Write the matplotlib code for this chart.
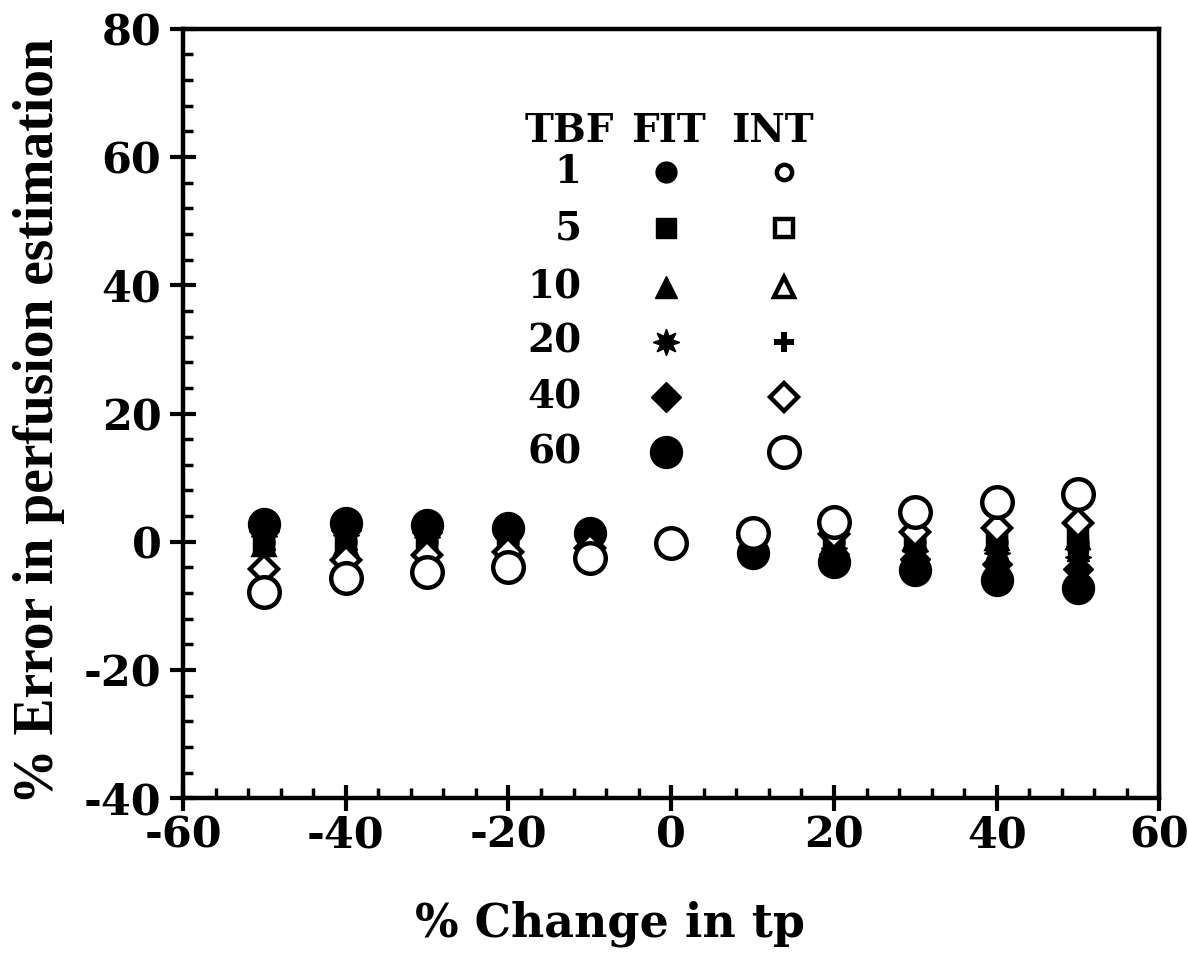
import numpy as np
import matplotlib
matplotlib.use('Agg')
import matplotlib.pyplot as plt
from matplotlib.ticker import MultipleLocator

plt.rcParams['font.family'] = 'DejaVu Serif'
plt.rcParams['font.weight'] = 'bold'
plt.rcParams['axes.unicode_minus'] = False

# % change in tp
change_tp = [-50, -40, -30, -20, -10, 0, 10, 20, 30, 40, 50]
tbf = [1, 5, 10, 20, 40, 60]

# % error, curve-fit method
fit_1 = [0.0, 0.0, 0.0, 0.0, 0.0, -0.2, 0.0, 0.0, -0.1, -0.1, -0.2]
fit_5 = [0.2, 0.2, 0.2, 0.15, 0.1, -0.2, -0.1, -0.2, -0.3, -0.4, -0.5]
fit_10 = [0.4, 0.45, 0.4, 0.3, 0.2, -0.2, -0.3, -0.5, -0.7, -0.9, -1.2]
fit_20 = [0.9, 1.0, 0.8, 0.7, 0.4, -0.2, -0.6, -1.0, -1.4, -1.8, -2.3]
fit_40 = [1.7, 1.9, 1.6, 1.3, 0.8, -0.2, -1.0, -1.9, -2.7, -3.4, -4.2]
fit_60 = [2.8, 3.0, 2.6, 2.2, 1.4, -0.2, -1.7, -3.1, -4.4, -5.9, -7.2]

# % error, integral method
int_1 = [0.0, 0.0, 0.0, 0.0, 0.0, -0.2, 0.0, 0.0, 0.0, 0.0, 0.1]
int_5 = [-0.2, -0.2, -0.1, -0.1, -0.1, -0.2, 0.1, 0.1, 0.2, 0.2, 0.3]
int_10 = [-0.5, -0.4, -0.4, -0.3, -0.2, -0.2, 0.2, 0.3, 0.4, 0.5, 0.6]
int_20 = [-1.2, -0.9, -0.8, -0.6, -0.4, -0.2, 0.3, 0.5, 0.7, 0.9, 1.1]
int_40 = [-4.2, -2.8, -2.1, -1.6, -0.9, -0.2, 0.6, 1.2, 1.6, 2.2, 3.0]
int_60 = [-7.9, -5.6, -4.7, -4.0, -2.5, -0.2, 1.4, 3.1, 4.7, 6.2, 7.5]

fit_series = [fit_1, fit_5, fit_10, fit_20, fit_40, fit_60]
int_series = [int_1, int_5, int_10, int_20, int_40, int_60]

star8 = (8, 1, 0)
# (fit marker, fit size, int marker, int size)
styles = [('o', 15, 'o', 11),
          ('s', 14, 's', 13),
          ('^', 16, '^', 14),
          (star8, 19, 'P', 15),
          ('D', 15, 'D', 14),
          ('o', 23, 'o', 22)]


def draw_marker(ax, x, y, filled, m, s, **kw):
    if filled or m == 'P':
        ax.plot(x, y, linestyle='none', marker=m, markersize=s, color='black',
                markeredgewidth=0 if m == 'P' else 1, **kw)
    else:
        ax.plot(x, y, linestyle='none', marker=m, markersize=s,
                markerfacecolor='white', markeredgecolor='black',
                markeredgewidth=3.2, **kw)


fig = plt.figure(figsize=(11.88, 9.55), dpi=100)
ax = fig.add_axes([0.154, 0.164, 0.822, 0.806])

# small INT markers first, FIT on top of them, then INT 40 / 60
for i in range(4):
    _, _, m, s = styles[i]
    draw_marker(ax, change_tp, int_series[i], False, m, s, zorder=2)
for i in range(6):
    m, s, _, _ = styles[i]
    draw_marker(ax, change_tp, fit_series[i], True, m, s, zorder=3)
for i in range(4, 6):
    _, _, m, s = styles[i]
    draw_marker(ax, change_tp, int_series[i], False, m, s, zorder=4 + i)

# table-style key
hdr_y = 0.867
ax.text(0.396, hdr_y, 'TBF', transform=ax.transAxes, fontsize=28,
        ha='center', va='center')
ax.text(0.497, hdr_y, 'FIT', transform=ax.transAxes, fontsize=28,
        ha='center', va='center')
ax.text(0.604, hdr_y, 'INT', transform=ax.transAxes, fontsize=28,
        ha='center', va='center')
row_y = [0.814, 0.741, 0.664, 0.593, 0.521, 0.450]
for i in range(6):
    m, s, m2, s2 = styles[i]
    ax.text(0.408, row_y[i], str(tbf[i]), transform=ax.transAxes, fontsize=28,
            ha='right', va='center')
    draw_marker(ax, [0.495], [row_y[i]], True, m, s,
                transform=ax.transAxes, clip_on=False)
    draw_marker(ax, [0.616], [row_y[i]], False, m2, s2,
                transform=ax.transAxes, clip_on=False)

ax.set_xlim(-60, 60)
ax.set_ylim(-40, 80)
ax.xaxis.set_major_locator(MultipleLocator(20))
ax.xaxis.set_minor_locator(MultipleLocator(4))
ax.yaxis.set_major_locator(MultipleLocator(20))
ax.yaxis.set_minor_locator(MultipleLocator(4))
ax.tick_params(which='major', direction='inout', length=19, width=3,
               labelsize=31, pad=6)
ax.tick_params(axis='x', which='major', pad=2)
ax.tick_params(which='minor', direction='in', length=7, width=2.5)
ax.tick_params(top=False, right=False, which='both')
for lab in ax.get_xticklabels() + ax.get_yticklabels():
    lab.set_fontweight('bold')
for sp in ax.spines.values():
    sp.set_linewidth(3.2)

ax.set_xlabel('% Change in tp', fontsize=33, fontweight='bold')
ax.xaxis.set_label_coords(0.437, -0.133)
ax.set_ylabel('% Error in perfusion estimation', fontsize=40,
              fontweight='bold', family='Liberation Serif')
ax.yaxis.set_label_coords(-0.121, 0.49)

fig.savefig('out.png', dpi=100)
